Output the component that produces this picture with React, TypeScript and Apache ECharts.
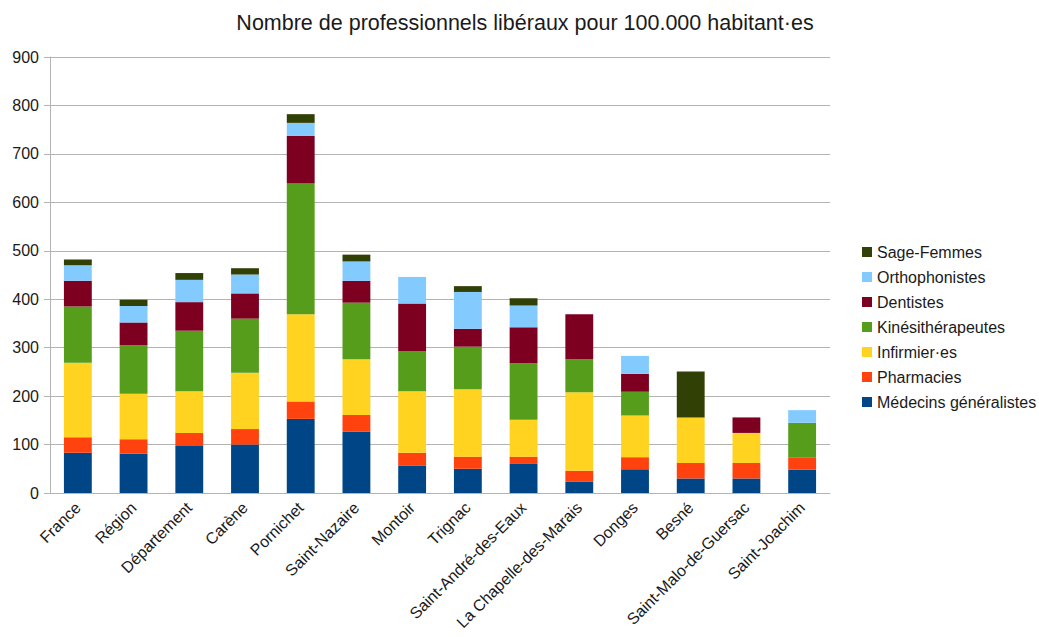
import React, { useEffect, useRef } from "react";
import * as echarts from "echarts";

const categories = [
  "France", "Région", "Département", "Carène", "Pornichet", "Saint-Nazaire", "Montoir",
  "Trignac", "Saint-André-des-Eaux", "La Chapelle-des-Marais", "Donges", "Besné",
  "Saint-Malo-de-Guersac", "Saint-Joachim",
];

const medecins = [83, 81, 97, 100, 153, 127, 56, 50, 60, 23, 49, 30, 30, 48];
const pharmacies = [32, 30, 27, 32, 36, 34, 27, 25, 15, 23, 25, 32, 32, 25];
const infirmiers = [154, 94, 86, 116, 180, 115, 127, 139, 76, 162, 86, 94, 62, 0];
const kines = [116, 100, 125, 112, 270, 117, 83, 88, 117, 68, 49, 0, 0, 72];
const dentistes = [53, 47, 59, 52, 98, 45, 98, 37, 74, 93, 37, 0, 32, 0];
const orthophonistes = [32, 34, 46, 39, 27, 40, 55, 76, 45, 0, 37, 0, 0, 26];
const sageFemmes = [12, 13, 14, 13, 18, 14, 0, 12, 15, 0, 0, 95, 0, 0];

const yTicks = { min: 0, max: 900, interval: 100 };

const seriesDefs = [
  { name: "Médecins généralistes", data: medecins, color: "#004586" },
  { name: "Pharmacies", data: pharmacies, color: "#ff420e" },
  { name: "Infirmier·es", data: infirmiers, color: "#ffd320" },
  { name: "Kinésithérapeutes", data: kines, color: "#579d1c" },
  { name: "Dentistes", data: dentistes, color: "#7e0021" },
  { name: "Orthophonistes", data: orthophonistes, color: "#83caff" },
  { name: "Sage-Femmes", data: sageFemmes, color: "#314004" },
];

export default function App() {
  const ref = useRef<HTMLDivElement>(null);
  useEffect(() => {
    document.body.style.margin = "0";
    if (!ref.current) return;
    const chart = echarts.init(ref.current, undefined, { renderer: "svg" });
    const font = "Liberation Sans, Arial, sans-serif";
    chart.setOption({
      animation: false,
      backgroundColor: "#ffffff",
      textStyle: { fontFamily: font },
      title: {
        text: "Nombre de professionnels libéraux pour 100.000 habitant·es",
        left: 520,
        textAlign: "center",
        top: 7,
        textStyle: { fontFamily: font, fontSize: 21.5, fontWeight: "normal", color: "#1a1a1a" },
      },
      legend: {
        orient: "vertical",
        left: 857,
        top: 239,
        itemWidth: 10,
        itemHeight: 10,
        itemGap: 9,
        icon: "rect",
        data: seriesDefs.map((s) => s.name).reverse(),
        textStyle: { fontFamily: font, fontSize: 16, lineHeight: 16, color: "#1a1a1a" },
      },
      grid: { left: 50, right: 209, top: 57, bottom: 149, containLabel: false },
      xAxis: {
        type: "category",
        data: categories,
        axisLine: { lineStyle: { color: "#b3b3b3" } },
        axisTick: { length: 6, lineStyle: { color: "#b3b3b3" } },
        axisLabel: { rotate: 45, fontSize: 16, color: "#1a1a1a", margin: 12, interval: 0, fontFamily: font },
      },
      yAxis: {
        type: "value",
        min: yTicks.min,
        max: yTicks.max,
        interval: yTicks.interval,
        axisLine: { show: true, lineStyle: { color: "#b3b3b3" } },
        axisTick: { show: true, length: 6, lineStyle: { color: "#b3b3b3" } },
        splitLine: { lineStyle: { color: "#b3b3b3" } },
        axisLabel: { fontSize: 16, color: "#1a1a1a", margin: 11, fontFamily: font },
      },
      series: seriesDefs.map((s) => ({
        name: s.name,
        type: "bar",
        stack: "total",
        barWidth: "50%",
        data: s.data,
        itemStyle: { color: s.color },
      })),
    });
    return () => chart.dispose();
  }, []);
  return <div ref={ref} style={{ width: 1039, height: 642 }} />;
}
